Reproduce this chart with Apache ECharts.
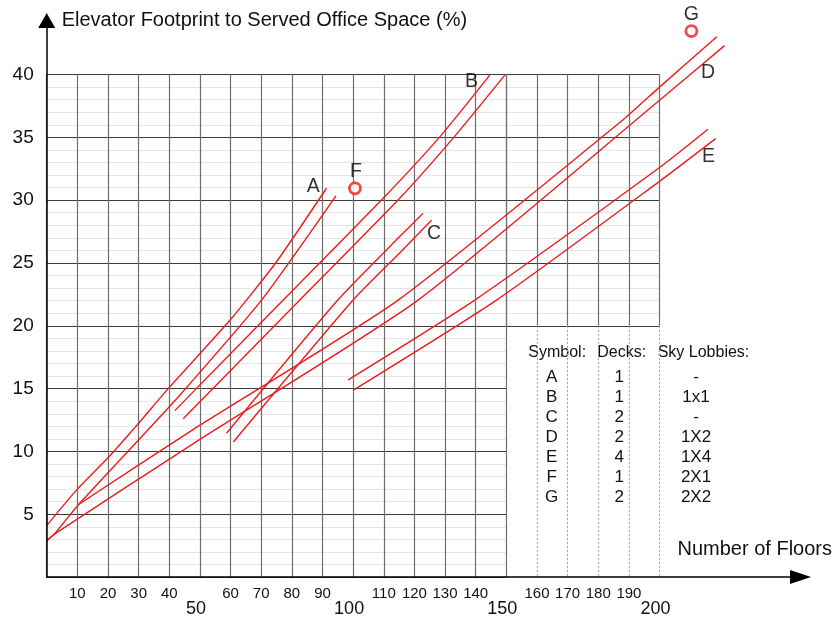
<!DOCTYPE html>
<html>
<head>
<meta charset="utf-8">
<script src="https://cdn.jsdelivr.net/npm/echarts@6/dist/echarts.min.js"></script>
<style>html,body{margin:0;padding:0;background:#fff}#c{width:835px;height:618px}</style>
</head>
<body>
<div id="c"></div>
<script>
// ---------- data ----------
const aUpper = [[0,4.1],[10,7.0],[20,9.5],[30,12.25],[40,15.1],[60,20.5],[75,25.1],[91.3,30.95]];
const aLower = [[0,2.9],[2.4,3.4],[10.5,5.8],[29.9,10.9],[43.5,14.5],[70.1,22.05],[94.4,30.35]];
const bUpper = [[41.8,13.25],[77.2,22.05],[109.8,30.15],[128.5,35.1],[144.6,39.95]];
const bLower = [[44.55,12.6],[82.6,22.05],[115.2,30.15],[133.2,35.1],[149.5,39.95]];
const cUpper = [[58.7,11.45],[95,22.05],[115.2,27.1],[122.8,28.95]];
const cLower = [[60.9,10.75],[100,22.05],[115.2,25.8],[125.6,28.4]];
const dUpper = [[10.5,5.8],[47.5,11.7],[114.7,22.05],[188.1,36.4],[200,39.0],[218.7,43.0]];
const dLower = [[0,2.9],[2.4,3.4],[48,10.65],[121.2,22.05],[200,37.95],[221.2,42.3]];
const eUpper = [[98.4,15.7],[139.7,22.05],[200,32.6],[215.8,35.65]];
const eLower = [[100.2,14.9],[146.8,22.05],[200,31.5],[218.3,34.9]];

const markerNames  = ['F','G'];
const markerFloors = [100.6, 210.4];
const markerValues = [30.94, 43.46];

const letterLabels = ['A','B','C','D','E','F','G'];
const letterX      = [87, 138.6, 126.4, 215.8, 216, 100.9, 210.4];
const letterY      = [31.07, 39.4, 27.36, 40.14, 33.46, 32.3, 44.73];

const xTickLabelsUpper = [10,20,30,40,60,70,80,90,110,120,130,140,160,170,180,190];
const xTickLabelsLower = [50,100,150,200];
const yTickLabels = [5,10,15,20,25,30,35,40];

const xAxisTitle = 'Number of Floors';
const yAxisTitle = 'Elevator Footprint to Served Office Space (%)';

const tableHeader = ['Symbol:','Decks:','Sky Lobbies:'];
const tableSymbols = ['A','B','C','D','E','F','G'];
const tableDecks = ['1','1','2','2','4','1','2'];
const tableLobbies = ['-','1x1','-','1X2','1X4','2X1','2X2'];

// ---------- layout ----------
const FONT = '"Liberation Sans", Arial, sans-serif';
const RED = '#ec1c1c';
const TXT = '#111';
const X0 = 46.7, KX = 3.0642, Y0 = 577.1, KY = 12.564;
const X_MAX = 246, Y_MAX = 44.3;
function box(x1,x2,y1,y2){ return {left:X0+x1*KX, width:(x2-x1)*KX, top:Y0-y2*KY, height:(y2-y1)*KY, containLabel:false, outerBoundsMode:'none'}; }

const lineSets = [
  ['A upper',aUpper],['A lower',aLower],['B upper',bUpper],['B lower',bLower],
  ['C upper',cUpper],['C lower',cLower],['D upper',dUpper],['D lower',dLower],
  ['E upper',eUpper],['E lower',eLower]
];

const hidden = {axisLine:{show:false}, axisTick:{show:false}, axisLabel:{show:false}};
const vLine = {show:true, lineStyle:{color:'#6e6e6e', width:1.2}};
const hLine = {show:true, lineStyle:{color:'#3c3c3c', width:1}};
const minorH = {show:true, lineStyle:{color:'#e6e6e6', width:1}};

const series = lineSets.map(([n,d]) => ({
  name:n, type:'line', data:d, symbol:'none', smooth:0.2, silent:true,
  lineStyle:{color:RED, width:1.4}, z:3, clip:false
}));
series.push({
  name:'markers', type:'scatter', silent:true,
  data: markerFloors.map((x,i)=>({name:markerNames[i], value:[x, markerValues[i]]})),
  symbol:'circle', symbolSize:11,
  itemStyle:{color:'#fff', borderColor:RED, borderWidth:2.8}, z:4, clip:false
});
series.push({
  name:'letters', type:'scatter', silent:true,
  data: letterLabels.map((n,i)=>({name:n, value:[letterX[i], letterY[i]]})),
  symbolSize:1, itemStyle:{color:'rgba(0,0,0,0)'},
  label:{show:true, position:'inside', formatter:'{b}', fontSize:19.5, color:'#000', fontFamily:FONT},
  z:5, clip:false
});

const graphic = [];
const headerLeft = [528.3, 597.3, 657.7];
tableHeader.forEach((t,i)=>graphic.push({type:'text', silent:true, style:{
  text:t, x:headerLeft[i], y:353, fontSize:16, fontFamily:FONT, fill:TXT, align:'left', verticalAlign:'middle'}}));
const colCenter = [551.7, 619.3, 696];
[tableSymbols, tableDecks, tableLobbies].forEach((col,c)=>{
  col.forEach((t,r)=>graphic.push({type:'text', silent:true, style:{
    text:t, x:colCenter[c], y:377.3 + r*19.98, fontSize:17, fontFamily:FONT, fill:TXT, align:'center', verticalAlign:'middle'}}));
});
graphic.push({type:'text', silent:true, style:{
  text:xAxisTitle, x:832, y:549.5, fontSize:20, fontFamily:FONT, fill:TXT, align:'right', verticalAlign:'middle'}});

const option = {
  animation:false,
  backgroundColor:'#fff',
  textStyle:{fontFamily:FONT},
  grid:[box(0,X_MAX,0,Y_MAX), box(0,150,0,40), box(150,200,20,40), box(160,200,0,20)],
  xAxis:[
    {gridIndex:0, type:'value', position:'bottom', min:0, max:X_MAX, interval:10, z:6,
     axisLine:{show:true, onZero:false, symbol:['none','triangle'], symbolSize:[14,21], lineStyle:{color:'#000', width:1.5}},
     axisTick:{show:false}, splitLine:{show:false},
     axisLabel:{margin:9, fontSize:15, color:TXT, fontFamily:FONT,
       formatter:v=>xTickLabelsUpper.includes(Math.round(v)) ? String(Math.round(v)) : ''}},
    {gridIndex:0, type:'value', position:'bottom', offset:0, min:0, max:X_MAX, interval:10,
     axisLine:{show:false, onZero:false}, axisTick:{show:false}, splitLine:{show:false},
     axisLabel:{margin:23, fontSize:18, color:TXT, fontFamily:FONT, padding:[0,8,0,0],
       formatter:v=>xTickLabelsLower.includes(Math.round(v)) ? String(Math.round(v)) : ''}},
    Object.assign({gridIndex:1, type:'value', min:0, max:150, interval:10, splitLine:vLine}, hidden),
    Object.assign({gridIndex:2, type:'value', min:150, max:200, interval:10, splitLine:vLine}, hidden),
    Object.assign({gridIndex:3, type:'value', min:160, max:200, interval:10,
      splitLine:{show:true, lineStyle:{color:'#a0a0a0', width:1, type:[2,2]}}}, hidden)
  ],
  yAxis:[
    {gridIndex:0, type:'value', position:'left', min:0, max:Y_MAX, interval:5, z:6,
     axisLine:{show:true, onZero:false, symbol:['none','triangle'], symbolSize:[17,15], lineStyle:{color:'#000', width:1.5}},
     axisTick:{show:false}, splitLine:{show:false},
     axisLabel:{margin:13, fontSize:19, color:TXT, fontFamily:FONT, padding:[3,0,0,0],
       formatter:v=>yTickLabels.includes(Math.round(v)) && Math.abs(v-Math.round(v))<1e-6 ? String(Math.round(v)) : ''},
     name:yAxisTitle, nameLocation:'end', nameGap:0,
     nameTextStyle:{fontSize:20, color:TXT, fontFamily:FONT, align:'left', verticalAlign:'middle', padding:[0,0,0,15]}},
    Object.assign({gridIndex:1, type:'value', min:0, max:40, interval:5, splitLine:hLine,
      minorTick:{show:false, splitNumber:5}, minorSplitLine:minorH}, hidden),
    Object.assign({gridIndex:2, type:'value', min:20, max:40, interval:5, splitLine:hLine,
      minorTick:{show:false, splitNumber:5}, minorSplitLine:minorH}, hidden),
    Object.assign({gridIndex:3, type:'value', min:0, max:20, interval:5, splitLine:{show:false}}, hidden)
  ],
  series: series,
  graphic: graphic
};

const chart = echarts.init(document.getElementById('c'), null, {renderer:'canvas'});
chart.setOption(option);
</script>
</body>
</html>
